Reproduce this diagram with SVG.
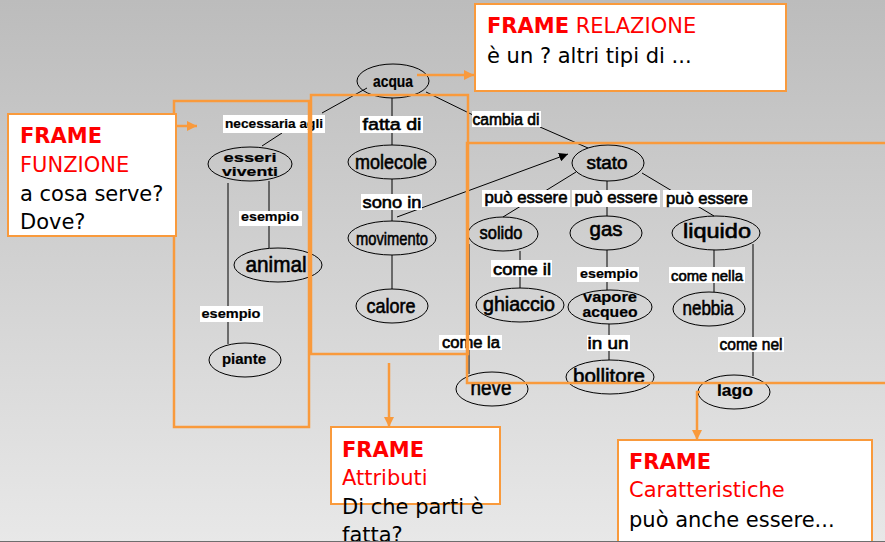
<svg xmlns="http://www.w3.org/2000/svg" width="885" height="542" viewBox="0 0 885 542">
<defs>
<linearGradient id="bg" x1="0" y1="0" x2="0" y2="1">
<stop offset="0" stop-color="#bcbcbc"/>
<stop offset="1" stop-color="#e8e8e8"/>
</linearGradient>
<marker id="ah" viewBox="0 0 10 10" refX="10" refY="5" markerWidth="9" markerHeight="9" markerUnits="userSpaceOnUse" orient="auto">
<path d="M0,0 L10,5 L0,10 z" fill="#000"/>
</marker>
<marker id="oh" viewBox="0 0 10 10" refX="10" refY="5" markerWidth="10" markerHeight="10" markerUnits="userSpaceOnUse" orient="auto">
<path d="M0,0 L10,5 L0,10 z" fill="#f99a3c"/>
</marker>
</defs>
<style>
.n ellipse{fill:none;stroke:#000;stroke-width:1}
.t{font-family:"Liberation Sans",Arial,sans-serif;fill:#000;text-anchor:middle;stroke:#000;stroke-width:0.6}
.b{font-weight:bold;stroke-width:0.2}
.c line{stroke:#000;stroke-width:1}
.lb{fill:#fff}
.fr{fill:none;stroke:#f99a3c;stroke-width:2.5}
.box{fill:#fff;stroke:#f99a3c;stroke-width:2}
.ft{font-family:"DejaVu Sans",Verdana,sans-serif;font-size:21px}
.red{fill:#ff0000}
.blk{fill:#000}
.ol{stroke:#f99a3c;stroke-width:2.5;fill:none}
</style>
<rect width="885" height="542" fill="url(#bg)"/>

<g id="connectors" class="c">
<line x1="367" y1="88" x2="322" y2="113"/>
<line x1="282" y1="133" x2="262" y2="146"/>
<line x1="392" y1="98" x2="392" y2="145"/>
<line x1="426" y1="92" x2="473" y2="115"/>
<line x1="540" y1="127" x2="588" y2="148"/>
<line x1="269" y1="181" x2="269" y2="248"/>
<line x1="228" y1="183" x2="228" y2="344"/>
<line x1="392" y1="179" x2="392" y2="221"/>
<line x1="392" y1="255" x2="392" y2="289"/>
<line x1="397" y1="217" x2="568" y2="154" marker-end="url(#ah)"/>
<line x1="576" y1="172" x2="503" y2="217"/>
<line x1="607" y1="181" x2="607" y2="216"/>
<line x1="642" y1="173" x2="714" y2="216"/>
<line x1="520" y1="251" x2="520" y2="288"/>
<line x1="469" y1="244" x2="469" y2="374"/>
<line x1="607" y1="250" x2="607" y2="290"/>
<line x1="609" y1="324" x2="609" y2="360"/>
<line x1="714" y1="250" x2="714" y2="292"/>
<line x1="753" y1="244" x2="753" y2="376"/>

<rect class="lb" x="223" y="115" width="102" height="18"/>
<text class="t b" x="274" y="128" font-size="13" textLength="98" lengthAdjust="spacingAndGlyphs">necessaria agli</text>
<rect class="lb" x="360" y="116" width="63" height="17"/>
<text class="t" x="392" y="130" font-size="17" textLength="59" lengthAdjust="spacingAndGlyphs">fatta di</text>
<rect class="lb" x="472" y="111" width="69" height="16"/>
<text class="t" x="506" y="125" font-size="16" textLength="67" lengthAdjust="spacingAndGlyphs">cambia di</text>
<rect class="lb" x="239" y="211" width="63" height="15"/>
<text class="t b" x="270" y="221" font-size="13" textLength="58" lengthAdjust="spacingAndGlyphs">esempio</text>
<rect class="lb" x="361" y="194" width="61" height="16"/>
<text class="t" x="392" y="208" font-size="17" textLength="59" lengthAdjust="spacingAndGlyphs">sono in</text>
<rect class="lb" x="200" y="306" width="63" height="16"/>
<text class="t b" x="231" y="318" font-size="13" textLength="59" lengthAdjust="spacingAndGlyphs">esempio</text>
<rect class="lb" x="482" y="190" width="88" height="17"/>
<text class="t" x="526" y="203" font-size="16" textLength="83" lengthAdjust="spacingAndGlyphs">può essere</text>
<rect class="lb" x="572" y="190" width="88" height="17"/>
<text class="t" x="616" y="203" font-size="16" textLength="83" lengthAdjust="spacingAndGlyphs">può essere</text>
<rect class="lb" x="663" y="190" width="89" height="17"/>
<text class="t" x="707" y="204" font-size="16" textLength="82" lengthAdjust="spacingAndGlyphs">può essere</text>
<rect class="lb" x="491" y="260" width="61" height="17"/>
<text class="t" x="522" y="275" font-size="16" textLength="58" lengthAdjust="spacingAndGlyphs">come il</text>
<rect class="lb" x="577" y="267" width="62" height="15"/>
<text class="t b" x="609" y="278" font-size="13" textLength="58" lengthAdjust="spacingAndGlyphs">esempio</text>
<rect class="lb" x="669" y="267" width="76" height="16"/>
<text class="t" x="707" y="281" font-size="15" textLength="72" lengthAdjust="spacingAndGlyphs">come nella</text>
<rect class="lb" x="439" y="335" width="63" height="15"/>
<text class="t" x="471" y="348" font-size="16" textLength="58" lengthAdjust="spacingAndGlyphs">come la</text>
<rect class="lb" x="587" y="335" width="43" height="16"/>
<text class="t" x="608" y="349" font-size="17" textLength="41" lengthAdjust="spacingAndGlyphs">in un</text>
<rect class="lb" x="718" y="337" width="66" height="15"/>
<text class="t" x="751" y="350" font-size="16" textLength="63" lengthAdjust="spacingAndGlyphs">come nel</text>
</g>

<g id="acqua" class="n"><ellipse cx="393" cy="81" rx="36" ry="17"/><text class="t b" x="393" y="87" font-size="16" textLength="40" lengthAdjust="spacingAndGlyphs">acqua</text></g>
<g id="esseri-viventi" class="n"><ellipse cx="250" cy="164" rx="42" ry="17"/><text class="t b" x="250" y="162" font-size="13" textLength="53" lengthAdjust="spacingAndGlyphs">esseri</text><text class="t b" x="250" y="176" font-size="13" textLength="56" lengthAdjust="spacingAndGlyphs">viventi</text></g>
<g id="animal" class="n"><ellipse cx="278" cy="265" rx="44" ry="17"/><text class="t" x="276" y="272" font-size="22" textLength="61" lengthAdjust="spacingAndGlyphs">animal</text></g>
<g id="piante" class="n"><ellipse cx="245" cy="360" rx="36" ry="17"/><text class="t b" x="244" y="364" font-size="15" textLength="44" lengthAdjust="spacingAndGlyphs">piante</text></g>
<g id="molecole" class="n"><ellipse cx="392" cy="162" rx="44" ry="17"/><text class="t" x="391" y="169" font-size="21" textLength="72" lengthAdjust="spacingAndGlyphs">molecole</text></g>
<g id="movimento" class="n"><ellipse cx="392" cy="238" rx="44" ry="17"/><text class="t" x="392" y="245" font-size="19" textLength="72" lengthAdjust="spacingAndGlyphs">movimento</text></g>
<g id="calore" class="n"><ellipse cx="392" cy="306" rx="36" ry="17"/><text class="t" x="391" y="313" font-size="21" textLength="49" lengthAdjust="spacingAndGlyphs">calore</text></g>
<g id="stato" class="n"><ellipse cx="608" cy="163" rx="36" ry="18"/><text class="t" x="607" y="169" font-size="19" textLength="41" lengthAdjust="spacingAndGlyphs">stato</text></g>
<g id="solido" class="n"><ellipse cx="503" cy="234" rx="35" ry="17"/><text class="t" x="501" y="239" font-size="19" textLength="43" lengthAdjust="spacingAndGlyphs">solido</text></g>
<g id="gas" class="n"><ellipse cx="606" cy="233" rx="36" ry="17"/><text class="t" x="606" y="236" font-size="20" textLength="33" lengthAdjust="spacingAndGlyphs">gas</text></g>
<g id="liquido" class="n"><ellipse cx="716" cy="233" rx="44" ry="17"/><text class="t" x="717" y="238" font-size="20" textLength="68" lengthAdjust="spacingAndGlyphs">liquido</text></g>
<g id="ghiaccio" class="n"><ellipse cx="520" cy="305" rx="44" ry="17"/><text class="t" x="519" y="311" font-size="20" textLength="72" lengthAdjust="spacingAndGlyphs">ghiaccio</text></g>
<g id="vapore-acqueo" class="n"><ellipse cx="610" cy="307" rx="42" ry="17"/><text class="t b" x="610" y="302" font-size="14" textLength="54" lengthAdjust="spacingAndGlyphs">vapore</text><text class="t b" x="610" y="317" font-size="14" textLength="55" lengthAdjust="spacingAndGlyphs">acqueo</text></g>
<g id="nebbia" class="n"><ellipse cx="709" cy="309" rx="36" ry="17"/><text class="t" x="708" y="315" font-size="20" textLength="51" lengthAdjust="spacingAndGlyphs">nebbia</text></g>
<g id="neve" class="n"><ellipse cx="492" cy="389" rx="36" ry="17"/><text class="t" x="491" y="395" font-size="22" textLength="41" lengthAdjust="spacingAndGlyphs">neve</text></g>
<g id="bollitore" class="n"><ellipse cx="610" cy="377" rx="44" ry="17"/><text class="t" x="609" y="383" font-size="21" textLength="72" lengthAdjust="spacingAndGlyphs">bollitore</text></g>
<g id="lago" class="n"><ellipse cx="734" cy="392" rx="36" ry="17"/><text class="t b" x="735" y="396" font-size="16" textLength="36" lengthAdjust="spacingAndGlyphs">lago</text></g>

<g id="frames">
<rect class="fr" x="174" y="101" width="135" height="326"/>
<rect class="fr" x="311" y="95" width="157" height="259"/>
<rect class="fr" x="467" y="143" width="430" height="240" stroke-width="3"/>
<line class="ol" x1="417" y1="75" x2="474" y2="75" marker-end="url(#oh)"/>
<line class="ol" x1="176" y1="126" x2="197" y2="126" marker-end="url(#oh)"/>
<line class="ol" x1="389" y1="363" x2="389" y2="427" marker-end="url(#oh)"/>
<polyline class="ol" points="700,392 697,392 697,440" marker-end="url(#oh)"/>
</g>

<g id="frame-relazione">
<rect class="box" x="475" y="4" width="311" height="87"/>
<text class="ft" x="487" y="33"><tspan class="red" font-weight="bold">FRAME</tspan><tspan class="red"> RELAZIONE</tspan></text>
<text class="ft blk" x="487" y="63">è un ? altri tipi di ...</text>
</g>
<g id="frame-funzione">
<rect class="box" x="8" y="114" width="168" height="122"/>
<text class="ft red" x="20" y="143" font-weight="bold">FRAME</text>
<text class="ft red" x="20" y="172">FUNZIONE</text>
<text class="ft blk" x="20" y="201">a cosa serve?</text>
<text class="ft blk" x="20" y="229">Dove?</text>
</g>
<g id="frame-attributi">
<rect class="box" x="331" y="427" width="169" height="77"/>
<text class="ft red" x="342" y="457" font-weight="bold">FRAME</text>
<text class="ft red" x="342" y="485">Attributi</text>
<text class="ft blk" x="342" y="514">Di che parti è</text>
<text class="ft blk" x="342" y="542">fatta?</text>
</g>
<g id="frame-caratteristiche">
<rect class="box" x="618" y="440" width="254" height="110"/>
<text class="ft red" x="629" y="469" font-weight="bold">FRAME</text>
<text class="ft red" x="629" y="497">Caratteristiche</text>
<text class="ft blk" x="629" y="527">può anche essere...</text>
</g>
<line x1="0" y1="541.5" x2="885" y2="541.5" stroke="#6e6e6e" stroke-width="1"/>
</svg>
